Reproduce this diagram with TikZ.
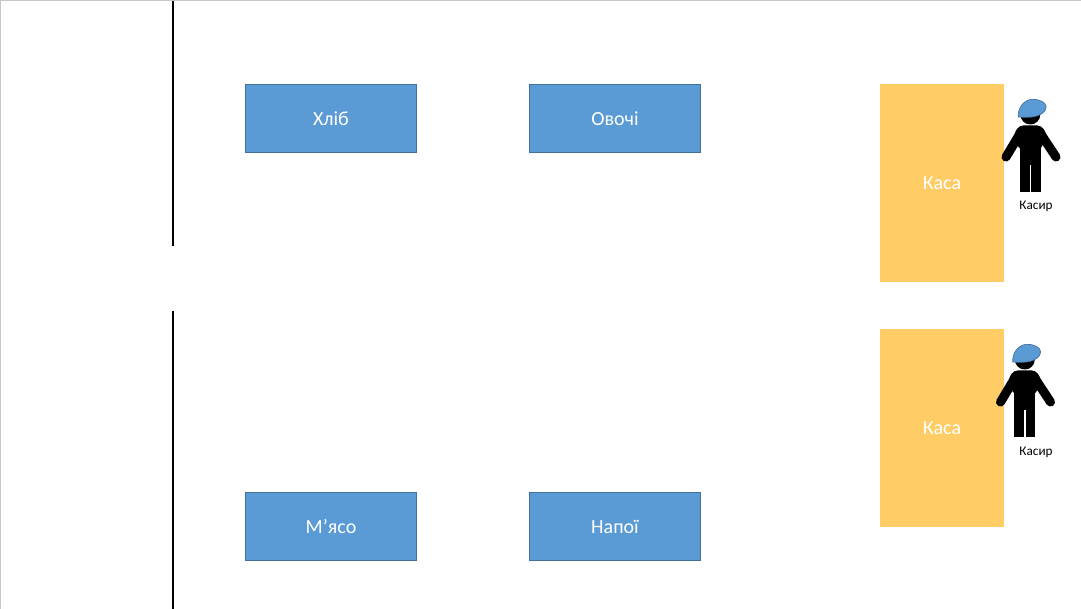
\documentclass[tikz,border=0pt]{standalone}
\usepackage{fontspec}
\setmainfont{Carlito}
\definecolor{shelfblue}{HTML}{5B9BD5}
\definecolor{shelfedge}{HTML}{41719C}
\definecolor{tillorange}{HTML}{FFCC66}
\definecolor{framegray}{HTML}{C8C8C8}
\tikzset{
  x=0.75pt,y=-0.75pt,
  shelf/.style={draw=shelfedge,line width=0.75pt,fill=shelfblue,text=white,minimum width=128.25pt,minimum height=51pt,inner sep=0pt,font=\fontsize{15}{18}\selectfont},
  till/.style={fill=tillorange,text=white,minimum width=93pt,minimum height=148.5pt,inner sep=0pt,font=\fontsize{15}{18}\selectfont},
  wall/.style={line width=1.6pt,black},
  caption/.style={inner sep=0pt,font=\fontsize{9.9}{12}\selectfont},
  person/.pic={
    \fill[black] (0.3,-3.5) circle (10);
    \fill[black,rounded corners=3pt] (-11,7.5) -- (11.5,7.5) -- (17,17) -- (10.5,32) -- (-10.5,32) -- (-16.5,17) -- cycle;
    \fill[black] (-10.5,25) rectangle (-0.5,74);
    \fill[black] (1,25) rectangle (10.5,74);
    \fill[black] (-10.5,25) rectangle (10.5,47);
    \draw[black,line width=6.8pt,line cap=round] (-9,14) -- (-24,39);
    \draw[black,line width=6.8pt,line cap=round] (9.5,14) -- (26,39);
    \path[fill=shelfblue,draw=shelfedge,line width=0.5pt] (-11.7,-1) .. controls (-12.5,-9) and (-7,-18) .. (2,-18.7) .. controls (9,-19) and (16,-16) .. (16.2,-11) .. controls (16,-6) and (10,-2) .. (2,-1) .. controls (-3,-0.6) and (-8,-0.7) .. (-11.7,-1) -- cycle;
  }
}
\begin{document}
\begin{tikzpicture}
\useasboundingbox (0,0) rectangle (1081,609);
\fill[white] (0,0) rectangle (1081,609);
\draw[framegray,line width=0.75pt] (0.5,609) -- (0.5,0.5) -- (1081,0.5);
\draw[wall] (173,1) -- (173,246);
\draw[wall] (173,311) -- (173,609);
\node[shelf] (bread) at (331,118.5) {Хліб};
\node[shelf] (veg) at (615,118.5) {Овочі};
\node[shelf] (meat) at (331,526.5) {М’ясо};
\node[shelf] (drinks) at (615,526.5) {Напої};
\node[till] (till1) at (942,183) {Каса};
\node[till] (till2) at (942,428) {Каса};
\pic at (1030,118) {person};
\pic at (1024.5,363) {person};
\node[caption] (cashier1) at (1036,206.5) {Касир};
\node[caption] (cashier2) at (1036,452) {Касир};
\end{tikzpicture}
\end{document}
